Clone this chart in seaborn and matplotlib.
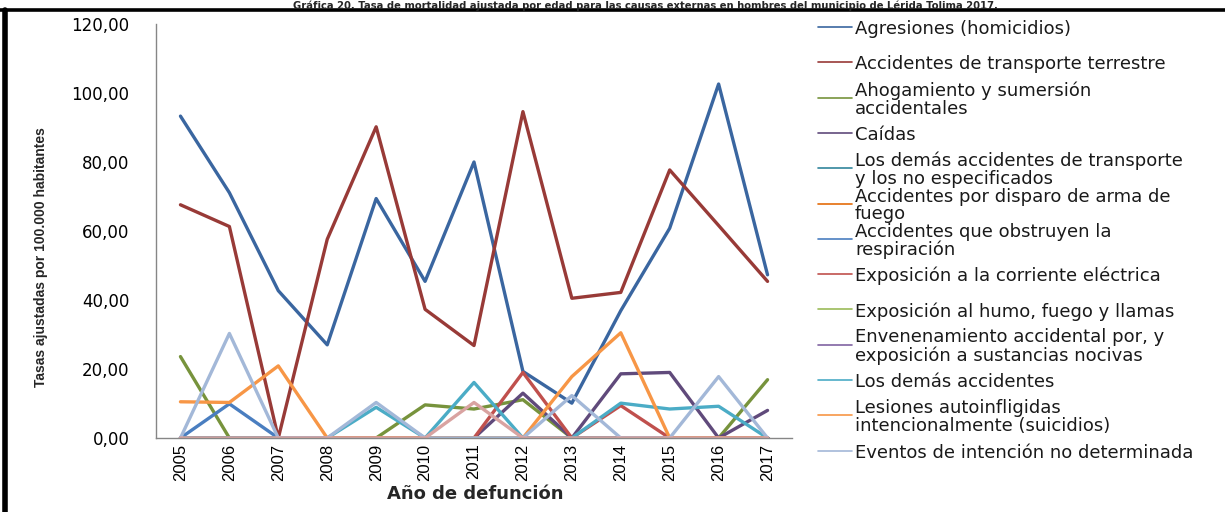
import numpy as np
import pandas as pd
import matplotlib
matplotlib.use("Agg")
import matplotlib.pyplot as plt
from matplotlib.lines import Line2D
from matplotlib.ticker import FuncFormatter, MultipleLocator
import seaborn as sns

# Datos: tasas ajustadas por 100.000 habitantes
years = [2005, 2006, 2007, 2008, 2009, 2010, 2011, 2012, 2013, 2014, 2015, 2016, 2017]

agresiones = [93.3, 71.1, 42.7, 27.0, 69.4, 45.4, 80.0, 19.3, 10.1, 36.9, 60.8, 102.6, 47.3]
transporte_terrestre = [67.6, 61.3, 0.0, 57.6, 90.2, 37.3, 26.8, 94.6, 40.5, 42.2, 77.7, 61.6, 45.4]
ahogamiento = [23.6, 0.0, 0.0, 0.0, 0.0, 9.6, 8.4, 11.1, 0.0, 0.0, 0.0, 0.0, 16.9]
caidas = [0.0, 0.0, 0.0, 0.0, 0.0, 0.0, 0.0, 13.0, 0.0, 18.6, 19.0, 0.0, 8.0]
demas_transporte = [0.0] * 13
disparo = [0.0] * 13
obstruyen = [0.0, 9.9, 0.0, 0.0, 0.0, 0.0, 0.0, 0.0, 0.0, 0.0, 0.0, 0.0, 0.0]
corriente = [0.0, 0.0, 0.0, 0.0, 0.0, 0.0, 0.0, 19.0, 0.0, 9.4, 0.0, 0.0, 0.0]
humo = [0.0] * 13
envenenamiento = [0.0] * 13
demas_accidentes = [0.0, 0.0, 0.0, 0.0, 8.9, 0.0, 16.1, 0.0, 0.0, 10.1, 8.4, 9.2, 0.0]
lesiones = [10.5, 10.3, 20.9, 0.0, 0.0, 0.0, 0.0, 0.0, 17.8, 30.5, 0.0, 0.0, 0.0]
eventos = [0.0, 30.3, 0.0, 0.0, 10.3, 0.0, 0.0, 0.0, 12.3, 0.0, 0.0, 17.8, 0.0]
otras = [0.0, 0.0, 0.0, 0.0, 0.0, 0.0, 10.3, 0.0, 0.0, 0.0, 0.0, 0.0, 0.0]

causes = [
    "Agresiones (homicidios)",
    "Accidentes de transporte terrestre",
    "Ahogamiento y sumersión accidentales",
    "Caídas",
    "Los demás accidentes de transporte y los no especificados",
    "Accidentes por disparo de arma de fuego",
    "Accidentes que obstruyen la respiración",
    "Exposición a la corriente eléctrica",
    "Exposición al humo, fuego y llamas",
    "Envenenamiento accidental por, y exposición a sustancias nocivas",
    "Los demás accidentes",
    "Lesiones autoinfligidas intencionalmente (suicidios)",
    "Eventos de intención no determinada",
    "Las demás causas externas",
]
series = [agresiones, transporte_terrestre, ahogamiento, caidas, demas_transporte,
          disparo, obstruyen, corriente, humo, envenenamiento, demas_accidentes,
          lesiones, eventos, otras]

# etiquetas tal como se cortan en la leyenda original
legend_labels = [
    "Agresiones (homicidios)",
    "Accidentes de transporte terrestre",
    "Ahogamiento y sumersión\naccidentales",
    "Caídas",
    "Los demás accidentes de transporte\ny los no especificados",
    "Accidentes por disparo de arma de\nfuego",
    "Accidentes que obstruyen la\nrespiración",
    "Exposición a la corriente eléctrica",
    "Exposición al humo, fuego y llamas",
    "Envenenamiento accidental por, y\nexposición a sustancias nocivas",
    "Los demás accidentes",
    "Lesiones autoinfligidas\nintencionalmente (suicidios)",
    "Eventos de intención no determinada",
]

colors = ["#3A66A0", "#983A37", "#77933C", "#604A7B", "#31859C", "#E46C0A",
          "#4A7EC0", "#C0504D", "#9BBB59", "#8064A2", "#4BACC6", "#F79646",
          "#A3B8D8", "#D9A3A1"]
palette = dict(zip(causes, colors))

df = pd.DataFrame({
    "year": np.tile(years, len(causes)),
    "tasa": np.concatenate(series),
    "causa": np.repeat(causes, len(years)),
})

sns.set_theme(style="white")
plt.rcParams["font.family"] = ["DejaVu Sans"]

W, H = 1225, 512
fig = plt.figure(figsize=(W / 100, H / 100), dpi=100)
ax = fig.add_axes([156 / W, 1 - 438 / H, (792 - 156) / W, (438 - 24) / H])

sns.lineplot(data=df, x="year", y="tasa", hue="causa", hue_order=causes,
             palette=palette, linewidth=2.4, legend=False, ax=ax)

ax.set_xlim(2004.5, 2017.5)
ax.set_ylim(0, 120)
ax.yaxis.set_major_locator(MultipleLocator(20))
ax.yaxis.set_major_formatter(FuncFormatter(lambda v, p: f"{v:.2f}".replace(".", ",")))
ax.set_xticks(years)
ax.set_xticklabels([str(y) for y in years], rotation=90, fontsize=12,
                   family="Liberation Sans")
ax.xaxis.set_minor_locator(MultipleLocator(1, offset=0.5))
ax.tick_params(axis="x", which="major", length=0, pad=4, labelcolor="black")
ax.tick_params(axis="x", which="minor", length=5, width=1, color="#868686", direction="out")
ax.tick_params(axis="y", which="major", length=5, width=1, color="#868686",
               direction="out", pad=14, labelsize=12, labelcolor="black")
for s in ["top", "right"]:
    ax.spines[s].set_visible(False)
for s in ["left", "bottom"]:
    ax.spines[s].set_color("#868686")
    ax.spines[s].set_linewidth(1.0)
ax.set_xlabel("")
ax.set_ylabel("")

fig.text(41 / W, 1 - 257 / H, "Tasas ajustadas por 100.000 habitantes", rotation=90,
         ha="center", va="center", fontsize=10, fontweight="bold",
         family="Liberation Sans")
fig.text(475 / W, 1 - 494 / H, "Año de defunción", ha="center", va="center",
         fontsize=13, fontweight="bold")

# titulo (en el original queda recortado arriba)
fig.text(645 / W, 1 - 0.5 / H,
         "Gráfica 20. Tasa de mortalidad ajustada por edad para las causas externas "
         "en hombres del municipio de Lérida Tolima 2017.",
         ha="center", va="top", fontsize=7.2, fontweight="bold")

# leyenda a la derecha, estilo Excel
for i, lab in enumerate(legend_labels):
    yy = 1 - (27 + i * 35.3) / H
    fig.add_artist(Line2D([818 / W, 852 / W], [yy, yy], color=colors[i], lw=1.2,
                          transform=fig.transFigure))
    fig.text(855 / W, yy, lab, ha="left", va="center_baseline", fontsize=13,
             color="#1a1a1a", linespacing=0.98)

# marco negro
fig.add_artist(Line2D([0, 1], [1 - 10 / H, 1 - 10 / H], color="black", lw=2.6,
                      transform=fig.transFigure))
fig.add_artist(Line2D([5 / W, 5 / W], [0, 1 - 10 / H], color="black", lw=4,
                      transform=fig.transFigure))

fig.savefig("out.png", dpi=100)
plt.close(fig)
